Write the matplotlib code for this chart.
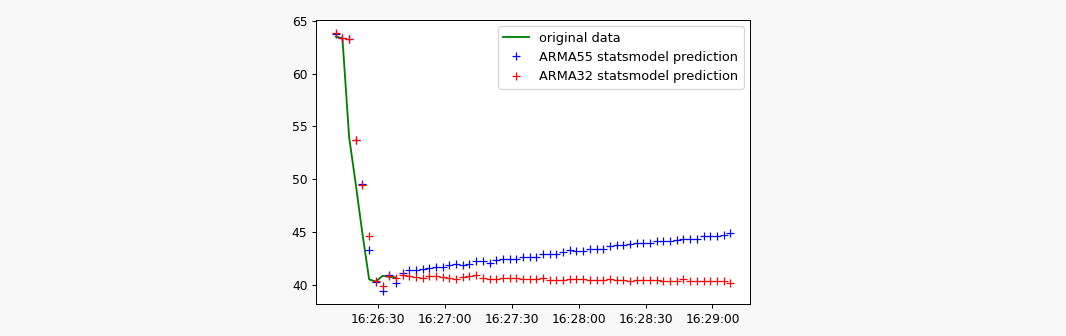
import numpy as np
import matplotlib
matplotlib.use("Agg")
import matplotlib.pyplot as plt
import matplotlib.dates as mdates
from datetime import datetime, timedelta

# ---- data ----
start_time = datetime(2020, 1, 1, 16, 26, 11)
step_seconds = 3

original = [63.5, 63.35, 54.0, 49.5, 44.8, 40.5, 40.3, 40.85, 40.75, 40.7]

arma55 = [63.7, 63.4, 63.3, 53.7, 49.5, 43.3, 40.3, 39.4, 40.9, 40.2,
          41.1, 41.35, 41.35, 41.5, 41.6, 41.65, 41.64, 41.83, 41.96, 41.9,
          41.99, 42.21, 42.21, 42.05, 42.31, 42.43, 42.43, 42.43, 42.66, 42.66,
          42.66, 42.91, 42.91, 42.91, 43.07, 43.29, 43.17, 43.17, 43.42, 43.42,
          43.42, 43.64, 43.8, 43.74, 43.86, 43.96, 43.96, 43.96, 44.12, 44.12,
          44.12, 44.28, 44.37, 44.37, 44.37, 44.6, 44.6, 44.6, 44.75, 44.91]

arma32 = [63.85, 63.4, 63.3, 53.7, 49.45, 44.6, 40.4, 39.9, 40.8, 40.6,
          40.95, 40.8, 40.7, 40.65, 40.8, 40.85, 40.78, 40.62, 40.56, 40.69,
          40.85, 40.88, 40.62, 40.56, 40.56, 40.62, 40.62, 40.62, 40.53, 40.53,
          40.53, 40.62, 40.46, 40.46, 40.46, 40.53, 40.53, 40.53, 40.46, 40.46,
          40.46, 40.53, 40.46, 40.46, 40.37, 40.46, 40.46, 40.46, 40.46, 40.37,
          40.37, 40.37, 40.53, 40.37, 40.37, 40.37, 40.37, 40.37, 40.37, 40.21]

labels = ["original data", "ARMA55 statsmodel prediction", "ARMA32 statsmodel prediction"]

times_pred = [start_time + timedelta(seconds=step_seconds * i) for i in range(len(arma55))]
times_orig = times_pred[:len(original)]

# ---- figure ----
DPI = 88
fig = plt.figure(figsize=(1066 / DPI, 336 / DPI), dpi=DPI, facecolor="#f8f8f8")
ax = fig.add_axes([316 / 1066, 1 - 304 / 336, (750 - 316) / 1066, (304 - 20) / 336])
ax.set_facecolor("white")

ax.plot(times_orig, original, "g", label=labels[0])
ax.plot(times_pred, arma55, "b+", label=labels[1])
ax.plot(times_pred, arma32, "r+", label=labels[2])

ax.xaxis.set_major_locator(mdates.SecondLocator(bysecond=[0, 30]))
ax.xaxis.set_major_formatter(mdates.DateFormatter("%H:%M:%S"))
ax.set_yticks([40, 45, 50, 55, 60, 65])

ax.legend(loc="upper right", fontsize=10.5)

fig.savefig("out.png", dpi=DPI, facecolor=fig.get_facecolor())
